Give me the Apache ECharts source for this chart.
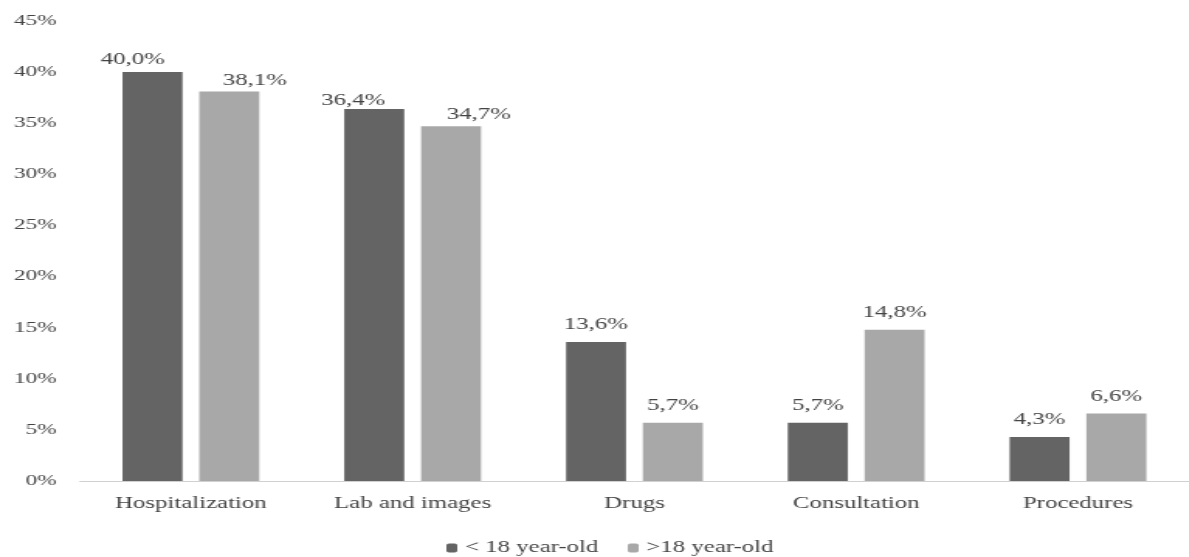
<!DOCTYPE html>
<html>
<head>
<meta charset="utf-8">
<script src="https://cdn.jsdelivr.net/npm/echarts@6/dist/echarts.min.js"></script>
<style>
  html, body { margin: 0; padding: 0; background: #fff; overflow: hidden; }
  /* the figure is drawn narrow and widened horizontally, giving its broad lettering */
  #chart { width: 767px; height: 557px; transform: scaleX(1.55); transform-origin: 0 0; }
</style>
</head>
<body>
<div id="chart"></div>
<script>
// Share of cost items by age group (%)
const categories = ['Hospitalization', 'Lab and images', 'Drugs', 'Consultation', 'Procedures'];
const under18 = [40.0, 36.4, 13.6, 5.7, 4.3];
const over18 = [38.1, 34.7, 5.7, 14.8, 6.6];
const seriesNames = ['< 18 year-old', '>18 year-old'];
const yTicks = [0, 5, 10, 15, 20, 25, 30, 35, 40, 45];

// value labels of the two tall groups are nudged aside so they do not collide
const labelNudgeUnder = [[-12.6, 5], [-13.5, 9], [0, 0], [0, 0], [0, 0]];
const labelNudgeOver = [[16.5, 6], [18, 6], [0, 0], [0, 0], [0, 0]];

const font = '"Liberation Serif", "DejaVu Serif", serif';
const textColor = '#444444';
const fmt = v => v.toFixed(1).replace('.', ',') + '%';

const withLabels = (values, nudges) => values.map((v, i) => ({
  value: v,
  label: { offset: nudges[i] }
}));

const labelStyle = {
  show: true, position: 'top', distance: 9,
  fontFamily: font, fontSize: 16, color: textColor,
  formatter: p => fmt(p.value)
};

const chart = echarts.init(document.getElementById('chart'));
chart.setOption({
  animation: false,
  backgroundColor: '#ffffff',
  textStyle: { fontFamily: font },
  grid: { left: 51.6, width: 718, top: 21, bottom: 76, containLabel: false },
  legend: {
    data: seriesNames,
    left: 283,
    top: 535,
    itemWidth: 7,
    itemHeight: 9,
    itemGap: 19,
    textStyle: { fontFamily: font, fontSize: 16, color: textColor }
  },
  xAxis: {
    type: 'category',
    data: categories,
    axisLine: { lineStyle: { color: '#d0d0d0', width: 1 } },
    axisTick: { show: false },
    axisLabel: { fontFamily: font, fontSize: 16, color: textColor, margin: 15 }
  },
  yAxis: {
    type: 'value',
    min: yTicks[0],
    max: yTicks[yTicks.length - 1],
    interval: 5,
    splitLine: { show: false },
    axisLine: { show: false },
    axisTick: { show: false },
    axisLabel: {
      fontFamily: font, fontSize: 15, color: textColor, margin: 15,
      formatter: v => v + '%'
    }
  },
  series: [
    {
      name: seriesNames[0],
      type: 'bar',
      data: withLabels(under18, labelNudgeUnder),
      barWidth: 38.7,
      barGap: '28%',
      itemStyle: { color: '#646464' },
      label: labelStyle
    },
    {
      name: seriesNames[1],
      type: 'bar',
      data: withLabels(over18, labelNudgeOver),
      barWidth: 38.7,
      barGap: '28%',
      itemStyle: { color: '#a8a8a8' },
      label: labelStyle
    }
  ]
});
</script>
</body>
</html>
